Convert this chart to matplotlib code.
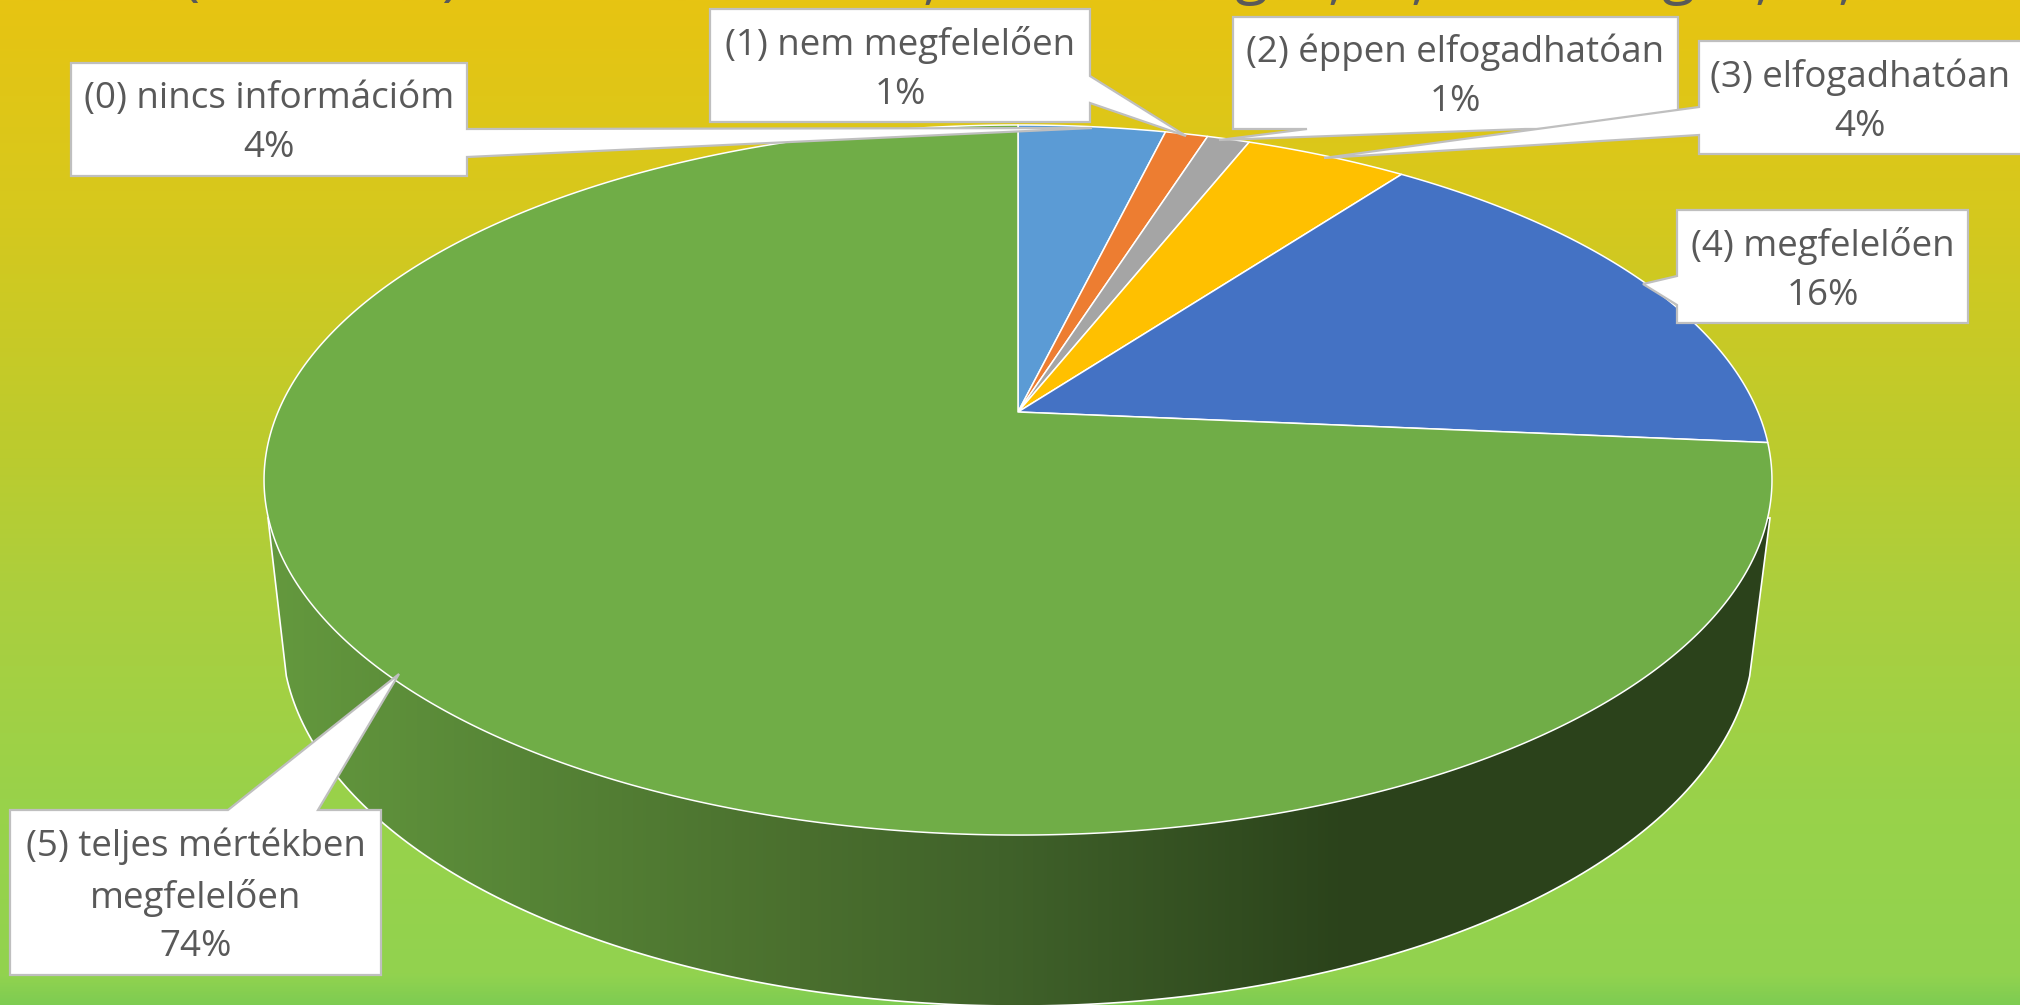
import matplotlib
matplotlib.use('Agg')
import matplotlib.pyplot as plt
import numpy as np
from matplotlib.colors import LinearSegmentedColormap
from matplotlib.patches import Polygon

# chart data
names = ['(0) nincs információm', '(1) nem megfelelően', '(2) éppen elfogadhatóan',
         '(3) elfogadhatóan', '(4) megfelelően', '(5) teljes mértékben\nmegfelelően']
values = [3.8, 1.1, 1.1, 4.2, 16.2, 73.6]
colors = ['#5B9BD5', '#ED7D31', '#A5A5A5', '#FFC000', '#4472C4', '#70AD47']

# only the descenders of the title are left inside the picture
title_glyphs = ['(', ')', ',', 'g', ',', ',', 'g', ',', ',']
title_x = [190, 450, 930, 1251, 1335, 1418, 1678, 1762, 1845]
glyph_base = {'(': -7, ')': -7, ',': -3, 'g': -8}

# callout outlines, in pixels
callouts = [
    [(71, 63), (467, 63), (467, 129), (1092, 128), (467, 157), (467, 176), (71, 176)],
    [(710, 9), (1090, 9), (1090, 76), (1186, 136), (1090, 103), (1090, 122), (710, 122)],
    [(1233, 17), (1678, 17), (1678, 129), (1525, 129), (1219, 140), (1307, 129), (1233, 129)],
    [(1699, 41), (2030, 41), (2030, 154), (1699, 154), (1699, 135), (1324, 158), (1699, 107)],
    [(1677, 210), (1968, 210), (1968, 323), (1677, 323), (1677, 305), (1643, 284), (1677, 276)],
    [(10, 810), (228, 810), (399, 674), (318, 810), (381, 810), (381, 975), (10, 975)],
]
boxes = [(71, 467, 63, 176), (710, 1090, 9, 122), (1233, 1678, 17, 129),
         (1699, 2021, 41, 154), (1677, 1968, 210, 323), (10, 381, 810, 975)]

W, H = 2020, 1005
fig = plt.figure(figsize=(W / 100, H / 100), dpi=100)
ax = fig.add_axes([0, 0, 1, 1])
ax.set_xlim(0, W)
ax.set_ylim(H, 0)
ax.axis('off')

# background
bg_stops = [(0, '#E7C412'), (190, '#D8C81C'), (440, '#BDCB2D'), (600, '#ABCF3E'),
            (800, '#99D24A'), (975, '#92D34F'), (1005, '#7ECC52')]
bg = LinearSegmentedColormap.from_list('bg', [(y / H, c) for y, c in bg_stops], N=512)
ax.imshow(np.linspace(0, 1, 512)[:, None], cmap=bg, extent=[0, W, H, 0], aspect='auto', zorder=0)

# pie geometry: a circle seen in perspective
cx, cy = 1018, 412
a, b, k = 740, 342, 0.1916


def rim(t):
    X, Y = np.sin(t), np.cos(t)
    w = 1 + k * Y
    return cx + a * X / w, cy - b * Y / w


# side wall
low_x, low_y, low_a, low_b = 1018, 636, 736, 370
s = np.linspace(np.arcsin(40 / low_b), np.pi - np.arcsin(40 / low_b), 200)
side = [(268, 518)] + list(zip(low_x - low_a * np.cos(s), low_y + low_b * np.sin(s))) + [(1770, 518)]
side_patch = Polygon(side, closed=True, fc='none', ec='white', lw=1.2, zorder=2)
ax.add_patch(side_patch)
side_stops = [(0, '#64993E'), (264, '#568436'), (534, '#4A6F2E'), (734, '#40622A'),
              (1074, '#2B431B'), (1754, '#2C421B')]
wall = LinearSegmentedColormap.from_list('wall', [(x / 1754, c) for x, c in side_stops], N=512)
im = ax.imshow(np.linspace(0, 1, 512)[None, :], cmap=wall, extent=[266, 2020, H, 0], aspect='auto', zorder=1)
im.set_clip_path(side_patch)
ax.set_xlim(0, W)
ax.set_ylim(H, 0)

# slices
edges = np.cumsum([0] + values) / sum(values) * 2 * np.pi
for i, col in enumerate(colors):
    t = np.linspace(edges[i], edges[i + 1], max(int(values[i] * 8), 6))
    xs, ys = rim(t)
    pts = [(cx, cy)] + list(zip(xs, ys))
    ax.add_patch(Polygon(pts, closed=True, fc=col, ec='white', lw=1.1, joinstyle='round', zorder=3))

# title remains
for g, x in zip(title_glyphs, title_x):
    ax.text(x, glyph_base[g], g, fontsize=44, family='Open Sans', color='#595959',
            ha='center', va='baseline', zorder=4)

# data labels
for name, val, shape, box in zip(names, values, callouts, boxes):
    ax.add_patch(Polygon(shape, closed=True, fc='white', ec='#BFBFBF', lw=1.6, joinstyle='miter', zorder=5))
    ax.text((box[0] + box[1]) / 2, (box[2] + box[3]) / 2 + 4, f'{name}\n{round(val)}%',
            fontsize=26.5, family='Open Sans', color='#595959', ha='center', va='center',
            linespacing=1.47, zorder=6)

fig.savefig('out.png', dpi=100)
